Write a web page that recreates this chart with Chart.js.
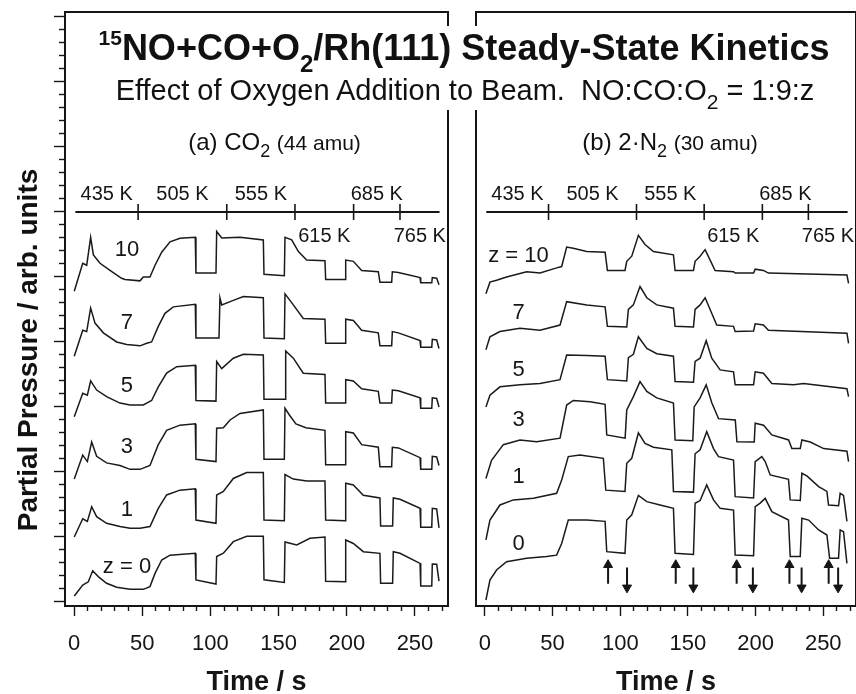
<!DOCTYPE html>
<html><head><meta charset="utf-8">
<script src="https://cdn.jsdelivr.net/npm/chart.js@4.4.1/dist/chart.umd.min.js"></script>
<style>
html,body{margin:0;padding:0;background:#fff;}
body{width:856px;height:694px;overflow:hidden;position:relative;font-family:"Liberation Sans",Arial,Helvetica,sans-serif;color:#111;}
canvas{position:absolute;top:0;}
#cL{left:0;} #cR{left:456px;}
.txt{position:absolute;white-space:nowrap;line-height:1;z-index:3;}
.mask{position:absolute;left:95px;top:26px;width:737px;height:84px;background:#fff;z-index:2;}
.r{position:relative;}
</style></head>
<body>
<canvas id="cL" width="470" height="694"></canvas>
<canvas id="cR" width="420" height="694"></canvas>
<div class="mask"></div>
<div class="txt" style="left:0;width:928px;top:29.5px;text-align:center;font-size:36px;font-weight:bold;"><span class="r" style="font-size:21px;top:-15px;">15</span>NO+CO+O<span class="r" style="font-size:24px;top:12px;">2</span>/Rh(111) Steady-State Kinetics</div>
<div class="txt" style="left:0;width:930px;top:75.5px;text-align:center;font-size:29px;">Effect of Oxygen Addition to Beam.&nbsp; NO:CO:O<span class="r" style="font-size:21px;top:9px;">2</span> = 1:9:z</div>
<div class="txt" style="left:0;width:549px;top:129.7px;text-align:center;font-size:24px;">(a) CO<span class="r" style="font-size:18px;top:7px;">2</span> <span style="font-size:21px;">(44 amu)</span></div>
<div class="txt" style="left:484px;width:372px;top:129.7px;text-align:center;font-size:24px;">(b) 2·N<span class="r" style="font-size:18px;top:7px;">2</span> <span style="font-size:21px;">(30 amu)</span></div>
<div class="txt" style="left:-172.5px;width:400px;top:336px;text-align:center;font-size:28px;font-weight:bold;transform:rotate(-90deg);">Partial Pressure / arb. units</div>
<script>
// ---------------- DATA ----------------
// time (s), signal (arb. units incl. vertical offset) pairs
// (a) CO2, 44 amu
const co2_z10 = [[0.2,23.9],[6.4,26.05],[9.3,25.9],[12.2,28.05],[14.2,26.7],[19.1,26.05],[26.4,25.5],[34.9,24.9],[37.4,24.8],[48.4,24.7],[50.8,25.0],[55.7,25.0],[59.4,25.9],[64.3,26.9],[70.4,27.7],[77.7,27.98],[88.9,28.05],[89.4,25.3],[104.1,25.3],[104.6,28.5],[108.3,28.0],[121.7,28.05],[138.8,27.85],[139.3,25.2],[154.2,25.1],[154.7,28.05],[159.6,27.85],[164.5,26.95],[170.6,26.3],[184,26.25],[184.5,24.8],[198.7,24.8],[199.2,26.3],[204.8,26.2],[210.9,25.5],[223.1,25.4],[224.3,24.6],[232.9,24.6],[233.4,25.4],[237.8,25.35],[253.7,24.95],[254.2,24.55],[262.3,24.55],[262.7,24.95],[265.9,24.9],[267.6,24.4]];
const co2_z7 = [[0.2,18.9],[6.4,20.9],[9.3,20.8],[12.2,22.6],[15.4,21.45],[21.5,20.7],[31.3,20.0],[38.6,19.8],[48.4,19.7],[53.3,19.9],[56.9,20.0],[61.8,21.2],[66.7,22.2],[72.8,22.7],[88.9,22.9],[89.4,20.3],[106.3,20.3],[107,23.4],[108.3,22.85],[116.8,23.2],[124.2,23.5],[138.8,23.4],[139.3,20.3],[154.2,20.25],[154.7,23.7],[160.8,22.85],[168.1,21.8],[184,21.75],[184.5,19.9],[198.7,19.9],[199.2,21.75],[204.8,21.65],[210.9,20.9],[223.1,20.7],[224.3,19.7],[232.9,19.7],[233.4,20.8],[237.8,20.7],[253.7,20.1],[254.2,19.6],[262.3,19.6],[262.7,20.2],[265.9,20.15],[267.6,19.5]];
const co2_z5 = [[0.2,14.25],[6.4,16.05],[9.8,15.9],[12.2,17.0],[16.6,16.3],[23.9,15.8],[33.7,15.3],[41.1,15.15],[50.8,15.15],[53.3,15.3],[56.9,15.5],[61.8,16.55],[67.9,17.6],[75.3,18.1],[88.9,18.2],[89.4,15.5],[104.1,15.45],[104.6,18.5],[108.3,17.95],[116.8,18.75],[124.2,19.05],[138.8,19.0],[139.3,15.6],[154.7,15.6],[155.2,19.3],[160.8,18.75],[168.1,17.6],[184,17.5],[184.5,15.3],[198.7,15.3],[199.2,17.1],[204.8,17.0],[210.9,16.4],[223.1,16.2],[224.3,15.3],[232.9,15.3],[233.4,16.3],[237.8,16.25],[253.7,15.7],[254.2,14.9],[262.3,14.9],[262.7,15.7],[265.9,15.65],[267.6,15.0]];
const co2_z3 = [[0.2,9.45],[6.4,11.3],[9.8,10.8],[12.95,12.3],[16.6,11.2],[23.9,10.7],[33.7,10.5],[41.1,10.2],[48.4,10.2],[55.7,10.5],[61.8,12.1],[67.9,13.2],[77.7,13.6],[88.9,13.7],[89.4,10.97],[104.1,10.8],[104.6,13.36],[109.5,13.4],[114.4,14.0],[121.7,14.5],[138.8,14.77],[139.3,10.97],[154.2,10.97],[154.7,14.9],[157.8,14.4],[162.7,13.7],[170,13.4],[184,13.2],[184.5,10.55],[198.7,10.55],[199.2,13.1],[204.8,13.0],[210.9,12.1],[223.1,11.9],[224.3,10.4],[232.9,10.4],[233.4,11.9],[237.8,11.85],[253.7,11.1],[254.2,10.2],[262.3,10.2],[262.7,11.2],[265.9,11.15],[267.6,10.5]];
const co2_z1 = [[0.2,5.0],[6.4,6.4],[9.8,6.2],[12.95,7.33],[16.6,6.56],[23.9,6.05],[33.7,5.8],[41.1,5.67],[48.4,5.67],[55.7,5.8],[61.8,7.2],[67.9,8.23],[77.7,8.6],[88.9,8.7],[89.4,6.3],[104.1,6.05],[104.6,8.23],[109.5,8.5],[116.8,9.5],[126.6,9.95],[138.8,9.95],[139.3,6.3],[154.2,6.25],[154.7,9.8],[160.8,9.45],[170.6,9.3],[184,9.3],[184.5,6.3],[198.7,6.25],[199.2,9.13],[204.8,9.0],[212.1,8.2],[224.3,8.0],[224.8,5.85],[233.6,5.85],[234.1,8.0],[239,7.9],[253.7,7.2],[254.2,5.75],[262.3,5.75],[262.7,7.2],[265.9,7.15],[267.6,5.7]];
const co2_z0 = [[0.2,0.46],[6.4,1.3],[10.5,1.55],[13.7,2.4],[17.8,1.95],[23.9,1.44],[31.3,1.13],[41.1,0.97],[50.8,0.97],[55.7,1.18],[59.4,2.2],[64.3,3.23],[70.4,3.6],[88.9,3.74],[89.4,1.7],[104.1,1.38],[104.6,3.5],[109.5,3.75],[116.8,4.64],[126.6,5.05],[138.8,5.05],[139.3,1.7],[154.2,1.5],[154.7,4.62],[163.3,4.38],[173,4.9],[184,5.0],[184.5,1.6],[198.7,1.55],[199.2,4.77],[204.8,4.5],[212.1,3.87],[224.3,3.74],[224.8,1.44],[233.6,1.44],[234.1,3.87],[239,3.75],[253.7,2.97],[254.2,1.23],[262.3,1.23],[262.7,2.92],[265.9,2.9],[267.6,1.6]];
// (b) 2*N2, 30 amu
const n2_z10 = [[0.74,23.7],[3.7,24.6],[8.6,24.75],[16,25.0],[30.8,25.4],[40.7,25.3],[53,25.7],[56.7,25.8],[60.4,27.3],[65.3,27.2],[75.2,26.95],[88.8,26.9],[90.5,25.5],[103.5,25.5],[104.8,26.2],[108.5,26.6],[113.4,28.2],[118.3,27.5],[124.5,26.95],[139.3,26.7],[140.5,25.5],[154.1,25.5],[155.3,26.2],[159,26.6],[162.7,27.1],[166.4,26.3],[170.1,25.5],[183.7,25.4],[184.9,25.3],[198.5,25.3],[199.7,25.6],[205.8,25.5],[209.5,25.3],[267.5,25.15],[268.7,24.5]];
const n2_z7 = [[0.74,19.4],[3.7,20.4],[11.1,20.8],[25.9,21.05],[40.7,20.9],[55.5,21.3],[60.4,23.1],[75.2,22.85],[88.8,22.7],[90.5,21.2],[104.8,21.15],[106,22.5],[109.7,22.85],[114.6,24.26],[119.6,23.4],[127,22.85],[139.3,22.6],[140.5,21.2],[154.1,21.15],[155.3,22.5],[159,22.85],[162.7,23.4],[166.4,22.5],[171.3,21.3],[183.7,21.2],[184.9,20.8],[198.5,20.85],[199.7,21.4],[205.8,21.3],[209.5,20.9],[267.5,20.67],[268.7,19.9]];
const n2_z5 = [[0.74,15.0],[3.7,15.9],[11.1,16.55],[25.9,16.7],[40.7,16.8],[55.5,17.1],[60.4,19.0],[75.2,18.95],[88.8,18.9],[90.5,17.1],[104.8,17.0],[106,18.8],[109.7,19.05],[113.4,20.4],[119.6,19.5],[127,19.1],[139.3,18.9],[140.5,16.95],[154.1,16.9],[155.3,18.5],[159,18.75],[163.5,20.1],[167.6,18.75],[173.8,17.85],[183.7,17.7],[184.9,16.7],[198.5,16.7],[199.7,17.7],[205.8,17.6],[212,16.8],[228,16.7],[235.5,16.8],[267.5,16.4],[268.7,15.8]];
const n2_z3 = [[0.74,9.5],[4.9,10.9],[13.6,12.1],[25.9,12.46],[38.2,12.33],[55.5,12.6],[60.4,15.15],[65.3,15.5],[77.7,15.4],[88.8,15.2],[90,12.85],[103.6,12.6],[104.8,14.77],[109.7,15.8],[114.6,16.95],[119.6,16.2],[127,15.7],[139.3,15.3],[140.5,12.46],[153.6,12.4],[154.6,15.0],[159,15.7],[163.5,16.7],[167.7,15.3],[172.6,14.1],[185,14.0],[186.2,12.33],[199,12.3],[199.7,13.75],[205.9,13.6],[212,12.85],[224.4,12.46],[226.8,11.8],[233,11.8],[234.2,12.46],[240.4,12.3],[250.3,11.8],[267.5,11.6],[268.7,10.8]];
const n2_z1 = [[0.74,4.77],[3.7,6.3],[11.1,7.46],[21,7.85],[35.8,7.97],[53,8.36],[56.7,9.38],[61.6,11.18],[70.2,11.3],[87.5,11.05],[89.3,8.6],[103.5,8.5],[104.8,10.67],[108.5,11.05],[113.4,13.0],[118.3,12.2],[124.5,11.9],[138.1,11.7],[139.3,8.5],[154.1,8.45],[155.3,11.4],[159,11.7],[163.9,13.1],[168.9,11.8],[172.6,11.18],[183.7,10.92],[184.9,8.1],[198.5,8.0],[199.7,10.8],[204.6,11.18],[207.1,10.8],[210.8,9.77],[224.3,9.44],[225.6,7.85],[233,7.8],[234.2,9.9],[237.9,9.7],[246.6,8.87],[252.7,8.5],[253.9,7.45],[261.3,7.4],[262.5,8.36],[265,8.2],[267.5,6.2]];
const n2_z0 = [[0.74,0.15],[3.7,1.69],[8.6,2.46],[16,3.1],[30.8,3.36],[45.6,3.5],[53,3.6],[56.7,4.5],[61.6,6.3],[75.2,6.3],[88.8,6.2],[90,3.87],[103.5,3.74],[104.8,6.3],[108.5,6.7],[113.4,8.2],[119.6,7.72],[129.4,7.46],[139.3,7.2],[140.5,3.74],[154.1,3.65],[155.3,7.59],[159,7.8],[163.9,9.0],[168.9,7.85],[173.8,7.2],[183.7,7.07],[184.9,3.61],[198.5,3.55],[199.7,7.33],[203.4,7.6],[207.1,7.97],[212,6.95],[224.3,6.3],[225.6,3.49],[233,3.49],[234.2,6.44],[239.2,6.3],[246.6,5.54],[252.7,5.15],[254.7,3.36],[261.3,3.36],[262.5,5.54],[265,5.4],[267.5,2.97]];

const co2Labels = ['10', '7', '5', '3', '1', 'z = 0'];
const n2Labels = ['z = 10', '7', '5', '3', '1', '0'];
const timeTicks = [0, 50, 100, 150, 200, 250];
// temperature programme (K) and the times (s) at which it changes
const tempLabels = ['435 K', '505 K', '555 K', '615 K', '685 K', '765 K'];
const tempBoundaries = [47, 112, 162, 205, 239];
const tempSpan = [1, 268];
// O2 on / off switching times (s) marked with arrows in (b)
const arrowUpTimes = [91, 141, 186, 225, 254];
const arrowDownTimes = [105, 154, 198, 234, 261];

// ---------------- LAYOUT / STYLE ----------------
const FONT = '"Liberation Sans", Arial, Helvetica, sans-serif';
const INK = '#151515';
const X_MIN = -6.6, X_MAX = 274.2;
const Y_MIN = -0.31, Y_MAX = 45.38;
const TEMP_LEVEL = 30;
const tempSide = ['above', 'above', 'above', 'below', 'above', 'below'];
const co2LabelPos = {t: 38.85, v: [27.1, 21.5, 16.6, 11.96, 7.08, 2.73]};
const n2LabelPos = {t: 24.8, v: [26.65, 22.2, 17.85, 14.0, 9.58, 4.5]};
const ARROW = {upTail: 1.4, upHead: 2.85, downTail: 2.65, downHead: 1.1};

const annotPlugin = {
  id: 'annot',
  afterDatasetsDraw(chart, args, opts) {
    const {ctx} = chart; const xs = chart.scales.x, ys = chart.scales.y;
    ctx.save();
    ctx.fillStyle = INK;
    for (const it of (opts.items || [])) {
      ctx.font = it.font;
      ctx.textAlign = it.align || 'center';
      ctx.textBaseline = it.baseline || 'middle';
      ctx.fillText(it.text, xs.getPixelForValue(it.x), ys.getPixelForValue(it.y) + (it.dy || 0));
    }
    ctx.restore();
  }
};

function toXY(arr) { return arr.map(p => ({x: p[0], y: p[1]})); }

function buildPanel(id, traces, labels, labelPos, withArrows, withYTicks, pad) {
  const datasets = [];
  traces.forEach(tr => datasets.push({
    data: toXY(tr), showLine: true, borderColor: '#1a1a1a', borderWidth: 1.5,
    pointRadius: 0, tension: 0, xAxisID: 'x', yAxisID: 'y'
  }));
  // temperature scale line with its tick marks
  datasets.push({data: [{x: tempSpan[0], y: TEMP_LEVEL}, {x: tempSpan[1], y: TEMP_LEVEL}], showLine: true,
    borderColor: INK, borderWidth: 2, pointRadius: 0, xAxisID: 'x', yAxisID: 'y'});
  datasets.push({data: tempBoundaries.map(t => ({x: t, y: TEMP_LEVEL})), showLine: false,
    pointStyle: 'line', pointRotation: 90, pointRadius: 8, pointBorderWidth: 1.6, pointBorderColor: INK,
    xAxisID: 'x', yAxisID: 'y'});
  if (withArrows) {
    const shafts = [];
    arrowUpTimes.forEach(t => shafts.push({x: t, y: ARROW.upTail}, {x: t, y: ARROW.upHead}, {x: t, y: null}));
    arrowDownTimes.forEach(t => shafts.push({x: t, y: ARROW.downTail}, {x: t, y: ARROW.downHead}, {x: t, y: null}));
    datasets.push({data: shafts, showLine: true, spanGaps: false, borderColor: INK, borderWidth: 2, pointRadius: 0, xAxisID: 'x', yAxisID: 'y'});
    datasets.push({data: arrowUpTimes.map(t => ({x: t, y: ARROW.upHead})), showLine: false, pointStyle: 'triangle',
      pointRotation: 0, pointRadius: 5.2, pointBackgroundColor: INK, pointBorderColor: INK, pointBorderWidth: 1, xAxisID: 'x', yAxisID: 'y'});
    datasets.push({data: arrowDownTimes.map(t => ({x: t, y: ARROW.downHead})), showLine: false, pointStyle: 'triangle',
      pointRotation: 180, pointRadius: 5.2, pointBackgroundColor: INK, pointBorderColor: INK, pointBorderWidth: 1, xAxisID: 'x', yAxisID: 'y'});
  }
  // text annotations
  const items = [];
  labels.forEach((lb, i) => items.push({text: lb, x: labelPos.t, y: labelPos.v[i], font: '22px ' + FONT}));
  const bounds = [tempSpan[0], ...tempBoundaries, tempSpan[1]];
  tempLabels.forEach((lb, i) => {
    const mid = (bounds[i] + bounds[i + 1]) / 2;
    const above = tempSide[i] === 'above';
    items.push({text: lb, x: mid, y: TEMP_LEVEL, dy: above ? -12 : 30, baseline: 'alphabetic', font: '20px ' + FONT});
  });

  const tickGrid = (len) => ({drawOnChartArea: false, tickLength: len, tickWidth: 1.4, tickColor: INK});
  const frameGrid = {display: true, drawOnChartArea: false, drawTicks: false};
  const frameBorder = {display: true, width: 2, color: INK};
  const scales = {
    x: {type: 'linear', min: X_MIN, max: X_MAX, position: 'bottom', weight: 0,
      ticks: {display: false, stepSize: 10, includeBounds: false}, grid: tickGrid(5), border: frameBorder,
      afterFit: s => { s.height = 5; }},
    xMajor: {type: 'linear', min: X_MIN, max: X_MAX, position: 'bottom', weight: 1,
      afterBuildTicks: s => { s.ticks = timeTicks.map(v => ({value: v})); },
      ticks: {display: true, padding: 15, color: INK, font: {size: 22, family: FONT}, maxRotation: 0, autoSkip: false},
      grid: tickGrid(5), border: {display: false},
      title: {display: true, text: 'Time / s', color: INK, font: {size: 27, weight: 'bold', family: FONT, lineHeight: 0.85}, padding: {top: 0, bottom: 0}},
      afterFit: s => { s.height = 83; }},
    xTop: {type: 'linear', min: X_MIN, max: X_MAX, position: 'top', ticks: {display: false}, grid: frameGrid, border: frameBorder,
      afterFit: s => { s.height = 0; }},
    y: {type: 'linear', min: Y_MIN, max: Y_MAX, position: 'left', weight: 0,
      ticks: {display: false, stepSize: 1, includeBounds: false},
      grid: withYTicks ? tickGrid(6) : frameGrid, border: frameBorder,
      afterFit: s => { s.width = withYTicks ? 6 : 0; }},
    yRight: {type: 'linear', min: Y_MIN, max: Y_MAX, position: 'right', ticks: {display: false}, grid: frameGrid, border: frameBorder,
      afterFit: s => { s.width = 0; }}
  };
  if (withYTicks) {
    scales.yMajor = {type: 'linear', min: Y_MIN, max: Y_MAX, position: 'left', weight: 1,
      ticks: {display: false, stepSize: 5, includeBounds: false}, grid: tickGrid(5), border: {display: false},
      afterFit: s => { s.width = 59; }};
  }
  return new Chart(document.getElementById(id), {
    type: 'scatter',
    data: {datasets},
    options: {
      responsive: false, animation: false, devicePixelRatio: 1, events: [],
      layout: {padding: pad, autoPadding: false},
      plugins: {legend: {display: false}, tooltip: {enabled: false}, title: {display: false}, annot: {items}},
      scales
    },
    plugins: [annotPlugin]
  });
}

buildPanel('cL', [co2_z10, co2_z7, co2_z5, co2_z3, co2_z1, co2_z0], co2Labels, co2LabelPos, false, true,
  {left: 0, top: 12, right: 22, bottom: 0});
buildPanel('cR', [n2_z10, n2_z7, n2_z5, n2_z3, n2_z1, n2_z0], n2Labels, n2LabelPos, true, false,
  {left: 20, top: 12, right: 20, bottom: 0});
</script>
</body></html>
